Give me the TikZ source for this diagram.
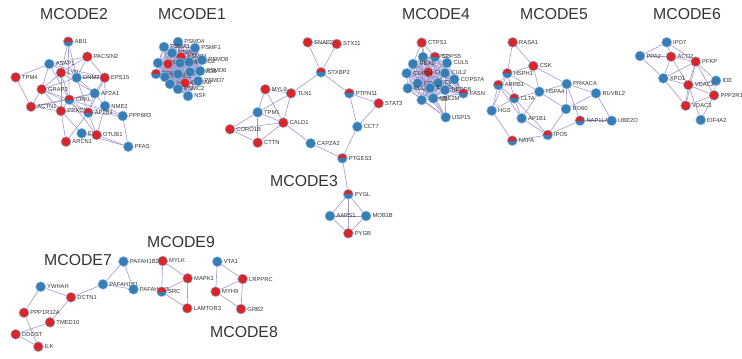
\documentclass[tikz,border=0pt]{standalone}
\usepackage{fontspec}
\setmainfont{Liberation Sans}
\usepackage{xcolor}
\definecolor{nodeBlue}{HTML}{3A7DB5}
\definecolor{nodeRed}{HTML}{D8262B}
\definecolor{nodeRim}{HTML}{8CC4E6}
\definecolor{edgePurple}{HTML}{A797CF}
\definecolor{labelGray}{HTML}{333333}
\usepackage{tikz}
\usetikzlibrary{backgrounds}

\begin{document}
\begin{tikzpicture}[x=0.02cm,y=-0.02cm,
  gene/.style={circle, minimum size=0.2cm, inner sep=0pt, draw=nodeRim, line width=0.3pt},
  bn/.style={gene, fill=nodeBlue},
  rn/.style={gene, fill=nodeRed},
  hn/.style={gene, fill=nodeBlue, path picture={\fill[nodeRed] (path picture bounding box.west) rectangle (path picture bounding box.north east);}},
  lbl/.style={font=\fontsize{3.3}{4}\selectfont, text=labelGray, inner sep=0.5pt},
  edge/.style={draw=edgePurple, line width=0.35pt},
  cluster/.style={font=\fontsize{9}{10}\selectfont, text=labelGray}]
  \useasboundingbox (0,0) rectangle (742,358);
  % cluster titles
  \node[cluster] (t2) at (74,14) {MCODE2};
  \node[cluster] (t1) at (192,14) {MCODE1};
  \node[cluster] (t4) at (436,14) {MCODE4};
  \node[cluster] (t5) at (554,14) {MCODE5};
  \node[cluster] (t6) at (687,14) {MCODE6};
  \node[cluster] (t3) at (304,181) {MCODE3};
  \node[cluster] (t9) at (181,242) {MCODE9};
  \node[cluster] (t7) at (78,260) {MCODE7};
  \node[cluster] (t8) at (244,332) {MCODE8};
  % MCODE2
  \foreach \n/\x/\y/\s/\t in {ABI1/68.3/41.7/hn/ABI1, PACSIN2/87.3/56.7/rn/PACSIN2,
      ASAP1/49.3/64/bn/ASAP1, LYN/61/72.7/rn/LYN, DNM2/76.7/77.7/bn/DNM2,
      EPS15/104.7/77.7/rn/EPS15, TPM4/15.7/77.3/rn/TPM4, GRAP2/41.7/89.3/rn/GRAP2,
      AP2A1/94.7/93.3/bn/AP2A1, CRKL/69.3/99.7/hn/CRKL, ACTN1/31/106.7/rn/ACTN1,
      NME2/105/106/bn/NME2, PRKCB/61/111/rn/PRKCB, AP2B1/88.3/112.7/hn/AP2B1,
      PPP6R3/122.7/116/bn/PPP6R3, EIF/81.7/133.3/bn/EI, OTUB1/96.7/135/rn/OTUB1,
      ARCN1/66/141.7/rn/ARCN1, PFAS/128.3/146.7/bn/PFAS}
    \node[\s, label={[lbl]right:\t}] (\n) at (\x,\y) {};
  % MCODE1
  \foreach \n/\x/\y/\s/\t in {p1/178/42/bn/PSMD4, p2/164/47/bn/PSMA1, p3/172/53/bn/PSMC5,
      p4/181/57/rn/PSMB1, p5/195/48/bn/PSMF1, p6/158/63/bn/PSMA2, p7/168/64/rn/PSMB2,
      p8/180/63/bn/PSMC3, p9/189/62/bn/PSMD2, p10/202/60/bn/PSMD8, p11/156/74/hn/PSMA3,
      p12/165/77/bn/PSMC1, p13/178/74/bn/PSMC4, p14/190/72/bn/PSMD3, p15/200/71/bn/PSMD6,
      p16/170/84/bn/PSMA5, p17/185/83/rn/PSMA6, p18/198/81/bn/PSMD7, p19/178/89/bn/PSMC2,
      p20/188/96/bn/NSF}
    \node[\s, label={[lbl]right:\t}] (\n) at (\x,\y) {};
  % MCODE3
  \foreach \n/\x/\y/\s/\t in {SNAP23/307.7/42.3/rn/SNAP23, STX11/336.7/44/rn/STX11,
      STXBP2/321/72.3/hn/STXBP2, MYL9/265.3/89.3/rn/MYL9, TLN1/291/93.3/rn/TLN1,
      PTPN11/349.3/93.3/hn/PTPN11, STAT3/378.7/103.3/rn/STAT3, TPM1/257.7/112.3/bn/TPM1,
      CALD1/283.3/122.7/rn/CALD1, CORO1B/230/129.3/rn/CORO1B, CCT7/357.3/126.7/bn/CCT7,
      CTTN/257.7/142.7/rn/CTTN, CAPZA2/310.7/143.3/bn/CAPZA2, PTGES3/342.3/158.3/hn/PTGES3,
      PYGL/348.3/194.3/hn/PYGL, AARS1/330/216/bn/AARS1, MOB1B/366/216/bn/MOB1B,
      PYGB/348.3/233.3/rn/PYGB}
    \node[\s, label={[lbl]right:\t}] (\n) at (\x,\y) {};
  % MCODE4
  \foreach \n/\x/\y/\s/\t in {CTPS1/421.7/42.7/rn/CTPS1, q2/423/57/bn/COPS2,
      q3/435/57/hn/COPS5, q4/447/63/bn/CUL5, q5/413/64/bn/RBX1, q6/428.3/72.3/rn/CUL3,
      q7/406.7/73.3/bn/COPS4, q8/445/73/bn/CUL2, q9/417.7/83.3/bn/COPS6, q10/438/83/bn/CUL1,
      q11/454.3/79.3/bn/COPS7A, q12/407.7/88.3/bn/ELOC, q13/430/88/bn/ELOB,
      q14/445/90/bn/NEDD8, q15/463.3/93.3/hn/FASN, q16/421.7/100/bn/COPS3,
      q17/433.3/98.3/bn/UBE2M, USP15/445.7/117.3/bn/USP15}
    \node[\s, label={[lbl]right:\t}] (\n) at (\x,\y) {};
  % MCODE5
  \foreach \n/\x/\y/\s/\t in {RASA1/512.7/42.3/rn/RASA1, CSK/533.3/66/rn/CSK,
      HSPH1/507.3/73.3/hn/HSPH1, ARRB1/498.3/85/hn/ARRB1, PRKACA/566.7/84/bn/PRKACA,
      HSPA4/539.3/91.7/bn/HSPA4, CLTA/514.3/98.3/hn/CLTA, RUVBL2/596/93.3/bn/RUVBL2,
      HGS/491.7/110.7/bn/HGS, RO60/566/109/bn/RO60, AP1B1/521.7/118.3/bn/AP1B1,
      NAP1L4/580/120.7/hn/NAP1L4, UBE2O/611.7/120.7/bn/UBE2O, IPO5/547.7/135/hn/IPO5,
      NAPA/512.3/140.7/hn/NAPA}
    \node[\s, label={[lbl]right:\t}] (\n) at (\x,\y) {};
  % MCODE6
  \foreach \n/\x/\y/\s/\t in {IPO7/666.7/42.3/bn/IPO7, PPA2/640/56/bn/PPA2,
      ACO2/671/56.7/rn/ACO2, PFKP/695.7/61.7/rn/PFKP, XPO1/663.3/78.3/bn/XPO1,
      IDE/716/80.7/bn/IDE, VDAC2/688.3/85/rn/VDAC2, PPP2R1A/714/95.3/rn/PPP2R1A,
      VDAC3/685.7/105.7/rn/VDAC3, EIF4A2/700.7/120/bn/EIF4A2}
    \node[\s, label={[lbl]right:\t}] (\n) at (\x,\y) {};
  % MCODE7
  \foreach \n/\x/\y/\s/\t in {YWHAH/40.7/286.7/bn/YWHAH, DCTN1/71/297.3/rn/DCTN1,
      PPP1R12A/24/312.7/rn/PPP1R12A, TMED10/50/322.3/rn/TMED10, DDOST/15.7/334.3/rn/DDOST,
      ILK/38.3/346.7/rn/ILK, PAFAH1B2/123.5/261.5/bn/PAFAH1B2,
      PAFAH1B1/103/284.3/bn/PAFAH1B1, PAFAH1B3/133.5/289.3/bn/PAFAH1B3}
    \node[\s, label={[lbl]right:\t}] (\n) at (\x,\y) {};
  % MCODE9 and MCODE8
  \foreach \n/\x/\y/\s/\t in {MYLK/162.7/261/rn/MYLK, MAPK1/187.7/278.3/rn/MAPK1,
      SRC/161.7/291.7/hn/SRC, LAMTOR3/187.3/308.3/rn/LAMTOR3, VTA1/217.3/261.7/bn/VTA1,
      LRPPRC/242.7/279/rn/LRPPRC, MYH9/215.7/291.7/rn/MYH9, GRB2/241/309/rn/GRB2}
    \node[\s, label={[lbl]right:\t}] (\n) at (\x,\y) {};
  % connectors
  \begin{scope}[on background layer]
    \foreach \a/\b in {TPM4/ASAP1, TPM4/ACTN1, ABI1/LYN, ABI1/DNM2, ABI1/CRKL,
        PACSIN2/ASAP1, PACSIN2/DNM2, PACSIN2/EPS15, PACSIN2/LYN, ASAP1/GRAP2,
        ASAP1/CRKL, ASAP1/EPS15, ASAP1/DNM2, LYN/GRAP2, LYN/CRKL, LYN/PRKCB, LYN/AP2A1,
        DNM2/EPS15, DNM2/GRAP2, DNM2/AP2A1, DNM2/AP2B1, EPS15/AP2A1, EPS15/AP2B1,
        EPS15/NME2, GRAP2/ACTN1, GRAP2/CRKL, GRAP2/AP2B1, GRAP2/PRKCB, AP2A1/CRKL,
        AP2A1/AP2B1, AP2A1/NME2, AP2A1/ACTN1, CRKL/PRKCB, CRKL/AP2B1, CRKL/PPP6R3,
        CRKL/OTUB1, ACTN1/PRKCB, ACTN1/CRKL, PRKCB/AP2B1, PRKCB/ARCN1, PRKCB/EIF,
        AP2B1/NME2, AP2B1/ARCN1, AP2B1/OTUB1, AP2B1/PPP6R3, NME2/PPP6R3, NME2/OTUB1,
        PPP6R3/PFAS, OTUB1/PFAS, EIF/OTUB1, EIF/PFAS}
      \draw[edge] (\a) -- (\b);
    \foreach \i in {1,...,19}{
      \pgfmathtruncatemacro\nx{\i+1}
      \foreach \j in {\nx,...,20}{\draw[edge] (p\i) -- (p\j);}}
    \foreach \a/\b in {SNAP23/STX11, SNAP23/STXBP2, STX11/STXBP2, STXBP2/TLN1,
        STXBP2/PTPN11, MYL9/TLN1, MYL9/TPM1, MYL9/CALD1, TPM1/TLN1, TLN1/CALD1,
        TPM1/CALD1, TPM1/CORO1B, TPM1/CTTN, CORO1B/CALD1, CORO1B/CTTN, CALD1/CTTN,
        CALD1/CAPZA2, PTPN11/STAT3, PTPN11/CCT7, STAT3/CCT7, CCT7/PTGES3,
        CAPZA2/PTGES3, PTGES3/PYGL, PYGL/AARS1, PYGL/MOB1B, PYGL/PYGB, AARS1/MOB1B,
        AARS1/PYGB, MOB1B/PYGB}
      \draw[edge] (\a) -- (\b);
    \foreach \i in {2,...,16}{
      \pgfmathtruncatemacro\nx{\i+1}
      \foreach \j in {\nx,...,17}{\draw[edge] (q\i) -- (q\j);}}
    \foreach \a/\b in {CTPS1/q2, CTPS1/q3, CTPS1/q5, CTPS1/q6, USP15/q12, USP15/q16,
        USP15/q17, USP15/q9, USP15/q13, USP15/q14}
      \draw[edge] (\a) -- (\b);
    \foreach \a/\b in {RASA1/HSPH1, RASA1/CSK, CSK/HSPH1, CSK/HSPA4, CSK/PRKACA,
        HSPH1/ARRB1, HSPH1/HSPA4, HSPH1/CLTA, HSPH1/HGS, ARRB1/HGS, ARRB1/CLTA,
        ARRB1/AP1B1, CLTA/HGS, CLTA/HSPA4, CLTA/AP1B1, HGS/NAPA, HSPA4/PRKACA,
        HSPA4/AP1B1, HSPA4/RO60, PRKACA/RUVBL2, PRKACA/RO60, PRKACA/NAP1L4,
        RUVBL2/RO60, RUVBL2/UBE2O, RO60/IPO5, NAP1L4/UBE2O, NAP1L4/IPO5, IPO5/NAPA,
        IPO5/AP1B1, CLTA/IPO5}
      \draw[edge] (\a) -- (\b);
    \foreach \a/\b in {IPO7/PPA2, IPO7/ACO2, IPO7/PFKP, PPA2/ACO2, PPA2/XPO1,
        ACO2/PFKP, ACO2/XPO1, ACO2/VDAC2, PFKP/XPO1, PFKP/VDAC2, PFKP/IDE,
        PFKP/PPP2R1A, PFKP/VDAC3, XPO1/VDAC2, XPO1/VDAC3, VDAC2/PPP2R1A, VDAC2/VDAC3,
        VDAC2/EIF4A2, VDAC2/IDE, VDAC3/PPP2R1A, PPP2R1A/EIF4A2, IDE/PPP2R1A}
      \draw[edge] (\a) -- (\b);
    \foreach \a/\b in {YWHAH/DCTN1, YWHAH/PPP1R12A, DCTN1/TMED10, DCTN1/PAFAH1B1,
        PPP1R12A/ILK, TMED10/DDOST, DDOST/ILK, PAFAH1B1/PAFAH1B2, PAFAH1B1/PAFAH1B3,
        PAFAH1B2/PAFAH1B3, MYLK/MAPK1, MYLK/SRC, MAPK1/SRC, MAPK1/LAMTOR3,
        SRC/LAMTOR3, VTA1/LRPPRC, VTA1/MYH9, LRPPRC/MYH9, LRPPRC/GRB2, MYH9/GRB2}
      \draw[edge] (\a) -- (\b);
  \end{scope}
\end{tikzpicture}
\end{document}
